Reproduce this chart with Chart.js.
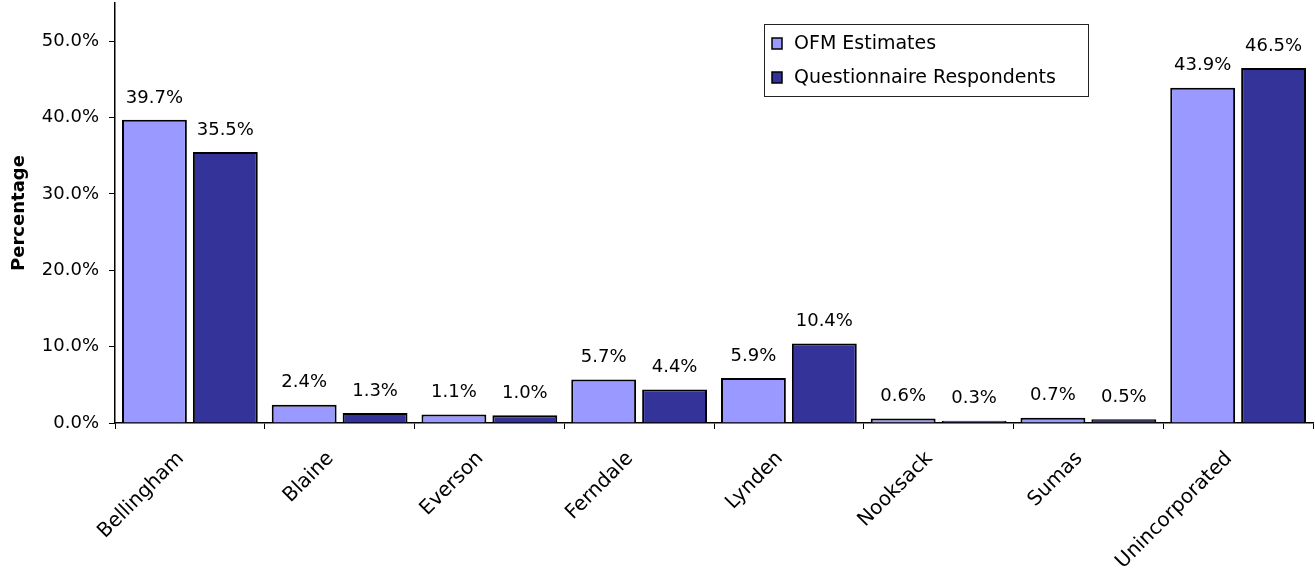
<!DOCTYPE html>
<html>
<head>
<meta charset="utf-8">
<script src="https://cdn.jsdelivr.net/npm/chart.js@4/dist/chart.umd.min.js"></script>
<style>
html,body{margin:0;padding:0;background:#fff;}
#wrap{width:1315px;height:579px;position:relative;}
</style>
</head>
<body>
<div id="wrap"><canvas id="c" width="1315" height="579"></canvas></div>
<script>
const categories = ["Bellingham","Blaine","Everson","Ferndale","Lynden","Nooksack","Sumas","Unincorporated"];
const ofmEstimates = [39.7, 2.4, 1.1, 5.7, 5.9, 0.6, 0.7, 43.9];
const questionnaireRespondents = [35.5, 1.3, 1.0, 4.4, 10.4, 0.3, 0.5, 46.5];
const seriesNames = ["OFM Estimates", "Questionnaire Respondents"];
const yTicks = [0, 10, 20, 30, 40, 50];

const FONT = "'DejaVu Sans', sans-serif";

const labelPlugin = {
  id: 'barLabels',
  afterDatasetsDraw(chart) {
    const ctx = chart.ctx;
    ctx.save();
    ctx.fillStyle = '#000';
    ctx.font = '18px ' + FONT;
    ctx.textAlign = 'center';
    ctx.textBaseline = 'bottom';
    chart.data.datasets.forEach((ds, di) => {
      const meta = chart.getDatasetMeta(di);
      meta.data.forEach((bar, i) => {
        ctx.fillText(ds.data[i].toFixed(1) + '%', bar.x, bar.y - 13);
      });
    });
    ctx.restore();
  }
};

const legendPlugin = {
  id: 'boxLegend',
  afterDraw(chart) {
    const ctx = chart.ctx;
    ctx.save();
    const x = 764, y = 24, w = 324, h = 72;
    ctx.fillStyle = '#fff';
    ctx.fillRect(x, y, w, h);
    ctx.strokeStyle = '#222';
    ctx.lineWidth = 1;
    ctx.strokeRect(x + 0.5, y + 0.5, w, h);
    ctx.font = '19px ' + FONT;
    ctx.textBaseline = 'middle';
    chart.data.datasets.forEach((ds, i) => {
      const cy = y + 19 + i * 34;
      ctx.fillStyle = ds.backgroundColor;
      ctx.fillRect(x + 8, cy - 5, 10, 11);
      ctx.strokeStyle = '#000';
      ctx.lineWidth = 1.5;
      ctx.strokeRect(x + 8, cy - 5, 10, 11);
      ctx.fillStyle = '#000';
      ctx.textAlign = 'left';
      ctx.fillText(ds.label, x + 30, cy + 1);
    });
    ctx.restore();
  }
};

new Chart(document.getElementById('c'), {
  type: 'bar',
  data: {
    labels: categories,
    datasets: [
      { label: seriesNames[0], data: ofmEstimates, backgroundColor: '#9999FF', borderColor: '#000', borderWidth: 2, categoryPercentage: 0.947, barPercentage: 0.915 },
      { label: seriesNames[1], data: questionnaireRespondents, backgroundColor: '#333399', borderColor: '#000', borderWidth: 2, categoryPercentage: 0.947, barPercentage: 0.915 }
    ]
  },
  options: {
    responsive: false,
    animation: false,
    layout: { padding: { top: 3, right: 2, left: 0, bottom: 0 } },
    plugins: { legend: { display: false }, tooltip: { enabled: false } },
    scales: {
      x: {
        grid: { display: true, drawOnChartArea: false, drawTicks: true, tickLength: 6, color: '#000', offset: true },
        border: { display: true, color: '#000', width: 1.5 },
        ticks: { color: '#000', font: { family: FONT, size: 20 }, minRotation: 45, maxRotation: 45, padding: 9,
          callback: (v, i) => categories[i] + '  ' },
        afterFit(s) { s.height = 156; s.paddingLeft = 0; s.paddingRight = 0; }
      },
      y: {
        min: 0, max: 55,
        grid: { display: true, drawOnChartArea: false, drawTicks: true, tickLength: 6, color: '#000' },
        border: { display: true, color: '#000', width: 1.5 },
        ticks: { color: '#000', font: { family: FONT, size: 18 }, stepSize: 10, padding: 10,
          callback: v => v.toFixed(1) + '%' },
        afterBuildTicks(s) { s.ticks = yTicks.map(v => ({ value: v })); },
        title: { display: true, text: 'Percentage', color: '#000', font: { family: FONT, size: 18, weight: 'bold' }, padding: { top: 9, bottom: 4 } },
        afterFit(s) { s.width = 115; s.paddingTop = 0; s.paddingBottom = 0; }
      }
    }
  },
  plugins: [labelPlugin, legendPlugin]
});
</script>
</body>
</html>
